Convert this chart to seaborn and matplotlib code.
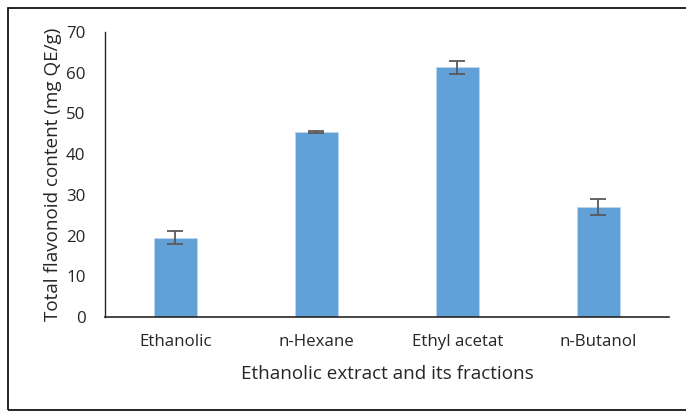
import matplotlib as mpl
mpl.use('Agg')
from matplotlib import pyplot as plt
from matplotlib.patches import Rectangle
import seaborn as sb
import pandas as pd

categories = ["Ethanolic", "n-Hexane", "Ethyl acetat", "n-Butanol"]
flavonoid = [19.4, 45.4, 61.4, 27.0]
sd = [1.6, 0.2, 1.6, 2.0]

sb.set_style("white")
plt.rcParams['font.family'] = ['Open Sans', 'DejaVu Sans']

df = pd.DataFrame({"fraction": categories, "tfc": flavonoid})

fig = plt.figure(figsize=(6.86, 4.11), dpi=100)
ax = fig.add_axes([0.153, 0.229, 0.822, 0.693])

sb.barplot(ax=ax, data=df, x="fraction", y="tfc", color="#62A0D8",
           saturation=1, width=0.31, edgecolor="#BDD7EE", linewidth=0.6)
ax.errorbar(range(len(categories)), flavonoid, yerr=sd, fmt='none',
            ecolor="#595959", elinewidth=1.3, capsize=6, capthick=1.3)

ax.set_xlim(-0.5, 3.5)
ax.set_ylim(0, 70)
ax.set_yticks(range(0, 71, 10))
ax.tick_params(axis='both', length=0, labelsize=12.2, colors="#262626")
ax.tick_params(axis='x', pad=12)
ax.tick_params(axis='y', pad=14)
for s in ('top', 'right'):
    ax.spines[s].set_visible(False)
ax.spines['left'].set_color("#262626")
ax.spines['bottom'].set_color("#262626")
ax.spines['left'].set_linewidth(1.0)
ax.spines['bottom'].set_linewidth(1.2)

ax.set_ylabel("Total flavonoid content (mg QE/g)", fontsize=13.6, color="#262626", labelpad=3)
ax.set_xlabel("Ethanolic extract and its fractions", fontsize=13.6, color="#262626", labelpad=11)

fig.patches.append(Rectangle((0.011, 0.002), 1.2, 0.978, transform=fig.transFigure,
                             fill=False, edgecolor="black", linewidth=1.2))

fig.savefig('out.png', dpi=100)
